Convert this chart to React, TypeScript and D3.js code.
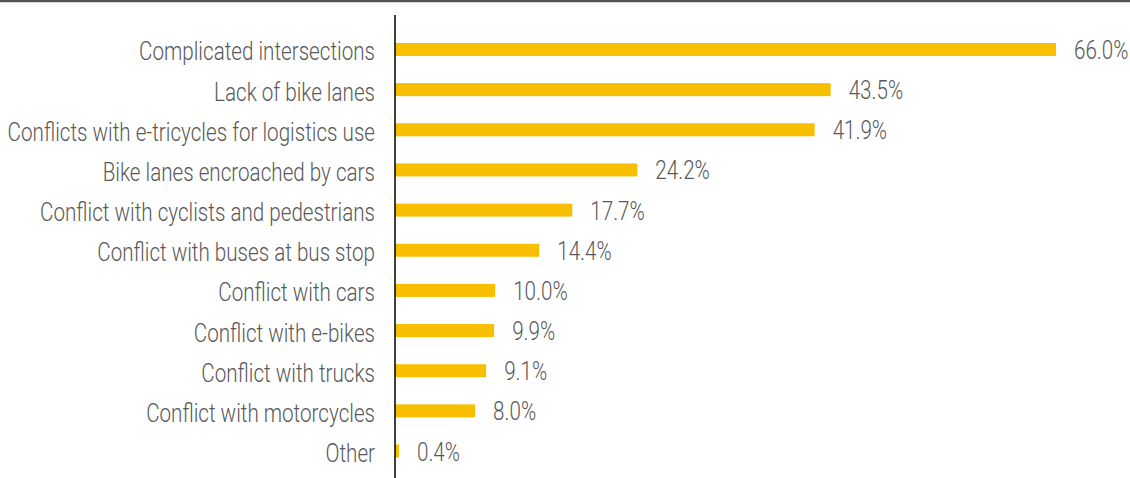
import React from "react";
import * as d3 from "d3";

const categories = [
  "Complicated intersections",
  "Lack of bike lanes",
  "Conflicts with e-tricycles for logistics use",
  "Bike lanes encroached by cars",
  "Conflict with cyclists and pedestrians",
  "Conflict with buses at bus stop",
  "Conflict with cars",
  "Conflict with e-bikes",
  "Conflict with trucks",
  "Conflict with motorcycles",
  "Other",
];
const values = [66.0, 43.5, 41.9, 24.2, 17.7, 14.4, 10.0, 9.9, 9.1, 8.0, 0.4];

const W = 1130;
const H = 478;
const SX = 0.825;
const FS = 25;

export default function App() {
  const x = d3.scaleLinear().domain([0, 66]).range([395, 1056]);
  const y = d3
    .scaleBand<string>()
    .domain(categories)
    .range([29.4, 471.1])
    .paddingInner(0.676)
    .paddingOuter(0.338);
  const font = "Roboto, 'Noto Sans', sans-serif";
  return (
    <svg
      width={W}
      height={H}
      style={{ position: "absolute", left: 0, top: 0, background: "#fff" }}
    >
      <line x1={0} x2={W} y1={1} y2={1} stroke="#555" strokeWidth={2.5} />
      {categories.map((c, i) => {
        const yc = (y(c) as number) + y.bandwidth() / 2;
        return (
          <g key={c}>
            <rect
              x={x(0)}
              y={y(c)}
              width={x(values[i]) - x(0)}
              height={y.bandwidth()}
              fill="#F7BF00"
            />
            <text
              transform={`translate(375,${yc + 11}) scale(${SX},1)`}
              textAnchor="end"
              fontFamily={font}
              fontWeight={300}
              fontSize={FS}
              fill="#595959"
            >
              {c}
            </text>
            <text
              transform={`translate(${x(values[i]) + 18},${yc + 9.5}) scale(${SX},1)`}
              fontFamily={font}
              fontWeight={300}
              fontSize={FS}
              fill="#595959"
            >
              {d3.format(".1f")(values[i]) + "%"}
            </text>
          </g>
        );
      })}
      <line x1={395} x2={395} y1={15} y2={H} stroke="#000" strokeWidth={1.5} />
    </svg>
  );
}
